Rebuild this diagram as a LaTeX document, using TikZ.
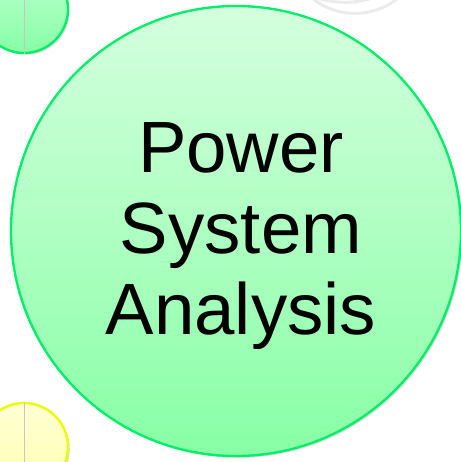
\documentclass[tikz,border=0pt]{standalone}
\usepackage{fontspec}
\setmainfont{Liberation Sans}
\usepackage{xcolor}
\usetikzlibrary{shadows}

\definecolor{mintrim}{RGB}{0,238,104}
\definecolor{minttop}{RGB}{212,255,222}
\definecolor{mintbot}{RGB}{136,255,166}
\definecolor{lemonrim}{RGB}{232,255,0}
\definecolor{lemontop}{RGB}{255,255,212}
\definecolor{lemonbot}{RGB}{255,255,176}

\begin{document}
\begin{tikzpicture}[
    x=0.03cm, y=-0.03cm,
    bubble/.style={circle, draw=mintrim, line width=2pt, inner sep=0pt,
        top color=minttop, bottom color=mintbot,
        drop shadow={shadow xshift=1.5pt, shadow yshift=-1.5pt, opacity=0.3}},
    lemon/.style={bubble, draw=lemonrim, top color=lemontop, bottom color=lemonbot},
    ghost/.style={circle, draw=gray!16, line width=2.5pt, inner sep=0pt},
    seam/.style={gray!45, line width=0.5pt}
]
\useasboundingbox (0,0) rectangle (461,462);

% faint rings cut off at the top
\node[ghost, minimum size=5.3cm] (ringa) at (345,-86) {};
\node[ghost, minimum size=4.1cm] (ringb) at (355,-55) {};

% small bubbles at the left edge
\node[bubble, top color=minttop!70!mintbot, minimum size=2.64cm] (upper) at (24,9) {};
\node[lemon, minimum size=2.64cm] (lower) at (24,447) {};
\draw[seam] (upper.north) -- (upper.south);
\draw[seam] (lower.north) -- (lower.south);

% main bubble
\node[bubble, minimum size=13.5cm] (psa) at (236,231) {};
\node[align=center, font=\fontsize{62}{69.5}\selectfont]
      (title) at ([shift={(5,5)}]psa.center) {Power\\System\\Analysis};
\end{tikzpicture}
\end{document}
